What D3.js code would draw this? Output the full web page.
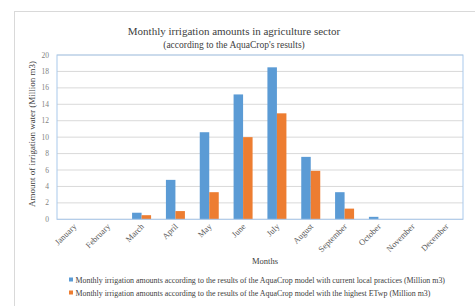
<!DOCTYPE html>
<html><head><meta charset="utf-8">
<script src="https://cdn.jsdelivr.net/npm/d3@7"></script>
<style>body{margin:0;background:#fff}svg{display:block}text{font-family:"Liberation Serif","Times New Roman",serif}</style>
</head><body><svg id="c" width="475" height="306"></svg>
<script>
const months = ["January","February","March","April","May","June","July","August","September","October","November","December"];
const currentPractice = [0,0,0.8,4.8,10.6,15.2,18.5,7.6,3.3,0.3,0,0];
const highestETwp = [0,0,0.5,1.0,3.3,10.0,12.9,5.9,1.3,0,0,0];
const yTicks = [0,2,4,6,8,10,12,14,16,18,20];
const seriesNames = ["Monthly irrigation amounts according to the results of the AquaCrop model with current local practices (Million m3)",
 "Monthly irrigation amounts according to the results of the AquaCrop model with the highest ETwp (Million m3)"];
const colors = ["#5b9bd5","#ed7d31"];

const svg = d3.select("#c");
svg.append("rect").attr("x",14.5).attr("y",11.5).attr("width",480).attr("height",320)
  .attr("fill","#fff").attr("stroke","#d9d9d9");

const L=57,R=463,T=55,B=219.3;
const x = d3.scaleBand().domain(months).range([L,R]);
const x1 = d3.scaleBand().domain([0,1]).range([0,19]);
const y = d3.scaleLinear().domain([0,20]).range([B,T]);

svg.append("g").selectAll("line").data(yTicks).join("line")
  .attr("x1",L).attr("x2",R).attr("y1",d=>y(d)).attr("y2",d=>y(d))
  .attr("stroke","#d9d9d9").attr("stroke-width",1);
svg.append("g").selectAll("text").data(yTicks).join("text")
  .attr("x",49).attr("y",d=>y(d)+2.5).attr("text-anchor","end")
  .attr("font-size",7.5).attr("fill","#7f7f7f").text(d=>d);

const data = [currentPractice, highestETwp];
data.forEach((vals,si)=>{
  svg.append("g").selectAll("rect").data(vals).join("rect")
    .attr("x",(d,i)=>x(months[i])+x.bandwidth()/2-9.5+x1(si))
    .attr("width",9.5)
    .attr("y",d=>y(d)).attr("height",d=>B-y(d))
    .attr("fill",colors[si]);
});

svg.append("rect").attr("x",L).attr("y",T).attr("width",R-L).attr("height",B-T)
  .attr("fill","none").attr("stroke","#a9c9ec").attr("stroke-width",1);

svg.append("g").selectAll("text").data(months).join("text")
  .attr("transform",d=>`translate(${x(d)+x.bandwidth()/2+3},${227}) rotate(-45)`)
  .attr("text-anchor","end").attr("font-size",8.5).attr("fill","#595959").text(d=>d);

svg.append("text").attr("x",234).attr("y",35).attr("text-anchor","middle")
  .attr("font-size",11).attr("fill","#404040").text("Monthly  irrigation  amounts  in  agriculture  sector");
svg.append("text").attr("x",234).attr("y",48).attr("text-anchor","middle")
  .attr("font-size",9.5).attr("fill","#404040").text("(according to the AquaCrop's results)");

svg.append("text").attr("transform",`translate(35,134) rotate(-90)`).attr("text-anchor","middle")
  .attr("font-size",9).attr("fill","#404040").text("Amount of irrigation water (Million m3)");
svg.append("text").attr("x",265).attr("y",264).attr("text-anchor","middle")
  .attr("font-size",8.5).attr("fill","#404040").text("Months");

seriesNames.forEach((n,i)=>{
  const yy = 281 + i*13;
  svg.append("rect").attr("x",69).attr("y",yy-3.5).attr("width",4).attr("height",4).attr("fill",colors[i]);
  svg.append("text").attr("x",75.5).attr("y",yy+1.5).attr("font-size",7.9).attr("fill","#404040").text(n);
});
</script></body></html>
